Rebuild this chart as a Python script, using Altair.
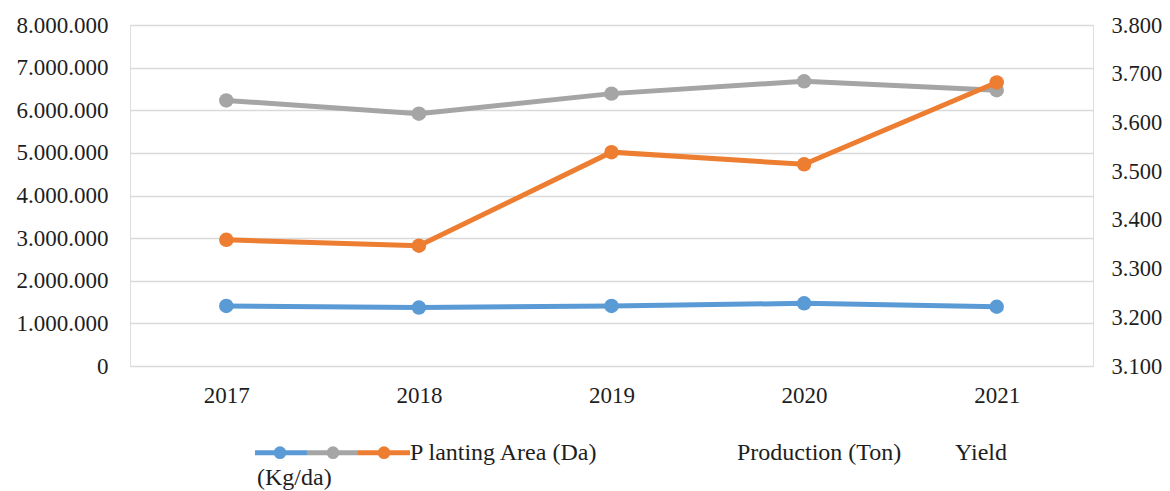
import altair as alt
import pandas as pd

years = ["2017", "2018", "2019", "2020", "2021"]
planting_area = [1410000, 1370000, 1410000, 1470000, 1390000]
production = [6230000, 5920000, 6390000, 6680000, 6470000]
yield_kg = [3359, 3347, 3539, 3514, 3682]

left_ticks = [0, 1000000, 2000000, 3000000, 4000000, 5000000, 6000000, 7000000, 8000000]
right_ticks = [3100, 3200, 3300, 3400, 3500, 3600, 3700, 3800]

legend_labels = ["P lanting Area (Da)", "Production (Ton)", "Yield", "(Kg/da)"]

BLUE = "#5b9bd5"
GRAY = "#a5a5a5"
ORANGE = "#ed7d31"
FONT = "Liberation Serif"
TXT = "#1e1e1e"

df = pd.DataFrame({"Year": years, "Area": planting_area, "Prod": production, "Yield": yield_kg})
base = alt.Chart(df)

xenc = alt.X("Year:N", scale=alt.Scale(type="point", padding=0.5),
             axis=alt.Axis(title=None, labelAngle=0, ticks=False, domain=False, grid=False,
                           labelPadding=18, labelFontSize=23, labelFont=FONT, labelColor=TXT))

fmt = "replace(format(datum.value, ',d'), regexp(',', 'g'), '.')"

def series(field, color, axis, domain):
    return base.mark_line(color=color, strokeWidth=5,
                          point=alt.OverlayMarkDef(filled=True, size=210, color=color, opacity=1)).encode(
        x=xenc,
        y=alt.Y(f"{field}:Q", scale=alt.Scale(domain=domain, nice=False, zero=False), axis=axis),
    )

left_axis = alt.Axis(title=None, values=left_ticks, labelExpr=fmt, grid=True, gridColor="#d9d9d9",
                     gridWidth=1.5, ticks=False, domain=False, labelPadding=22,
                     labelFontSize=23, labelFont=FONT, labelColor=TXT)
right_axis = alt.Axis(title=None, orient="right", values=right_ticks, labelExpr=fmt, grid=False,
                      ticks=False, domain=False, labelPadding=18,
                      labelFontSize=22.5, labelFont=FONT, labelColor=TXT)

blue = series("Area", BLUE, left_axis, [0, 8000000])
gray = series("Prod", GRAY, None, [0, 8000000])
orange = series("Yield", ORANGE, right_axis, [3100, 3800])

one = alt.Chart(pd.DataFrame({"a": [0]}))
ly = 427.7
leg_blue = one.mark_rule(color=BLUE, strokeWidth=5).encode(x=alt.value(125), x2=alt.value(177), y=alt.value(ly))
leg_gray = one.mark_rule(color=GRAY, strokeWidth=5).encode(x=alt.value(177), x2=alt.value(228), y=alt.value(ly))
leg_orange = one.mark_rule(color=ORANGE, strokeWidth=5).encode(x=alt.value(228), x2=alt.value(280), y=alt.value(ly))
dots = [
    one.mark_circle(color=c, size=160, opacity=1).encode(x=alt.value(xx), y=alt.value(ly))
    for c, xx in [(BLUE, 150), (GRAY, 203), (ORANGE, 254)]
]

def ltext(t, xx, yy):
    return one.mark_text(align="left", baseline="alphabetic", font=FONT, fontSize=24, color=TXT).encode(
        x=alt.value(xx), y=alt.value(yy), text=alt.value(t))

texts = [
    ltext(legend_labels[0], 280, 435),
    ltext(legend_labels[1], 607, 435),
    ltext(legend_labels[2], 825, 435),
    ltext(legend_labels[3], 127, 460),
]

chart = alt.layer(blue, gray, orange, leg_blue, leg_gray, leg_orange, *dots, *texts).resolve_scale(
    y="independent"
).properties(
    width=963, height=341,
    padding={"left": 122, "top": 17, "right": 69, "bottom": 125},
    autosize=alt.AutoSizeParams(type="none"),
).configure_view(stroke=None).configure(background="white")

chart.save("out.html", embed_options={"renderer": "svg", "actions": False})
